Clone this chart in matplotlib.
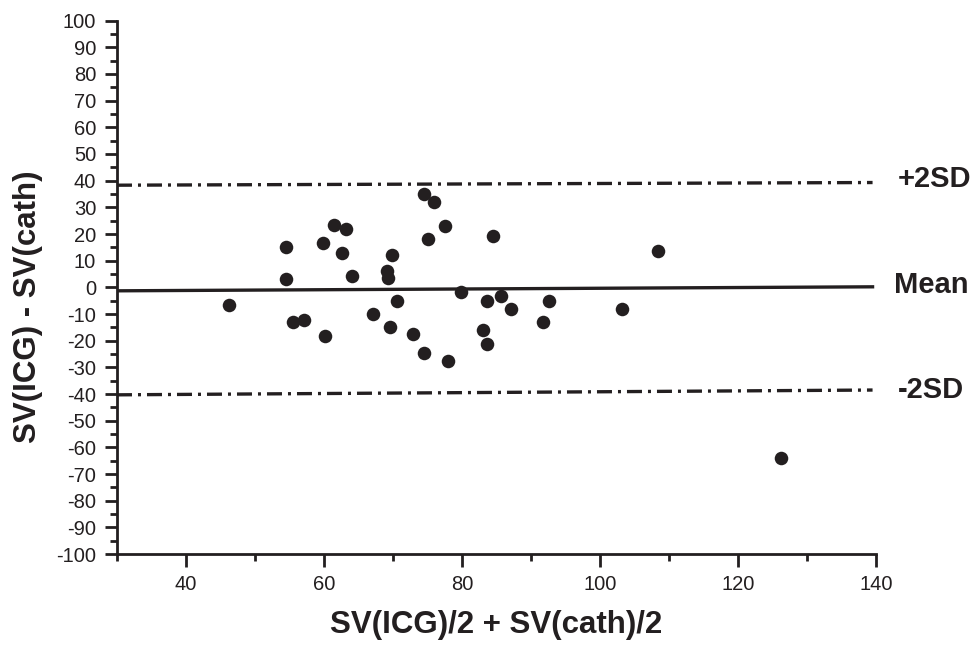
import matplotlib
matplotlib.use('Agg')
import matplotlib.pyplot as plt
from matplotlib.ticker import MultipleLocator

plt.rcParams['font.family'] = ['Liberation Sans', 'DejaVu Sans']
plt.rcParams['axes.unicode_minus'] = False

# data
mean_sv = [46.3, 54.5, 54.5, 55.5, 57.1, 59.8, 60.2, 61.4, 63.2, 62.6, 64.1, 67.1,
           69.1, 69.3, 69.9, 69.5, 70.6, 72.9, 74.5, 74.5, 76.0, 75.1, 77.5, 77.9,
           79.9, 83.6, 83.1, 83.6, 84.5, 85.6, 87.1, 92.6, 91.7, 103.2, 108.4, 126.2]
diff_sv = [-6.5, 15.0, 3.0, -13.0, -12.3, 16.5, -18.4, 23.2, 21.7, 13.0, 4.1, -10.0,
           6.2, 3.4, 12.2, -14.9, -5.0, -17.5, -24.8, 35.1, 32.0, 18.0, 23.1, -27.6,
           -1.6, -5.0, -16.1, -21.1, 19.4, -3.1, -8.0, -5.0, -13.1, -8.0, 13.5, -64.0]

line_x = [30, 139.5]
upper_sd = [38.3, 39.3]
mean_line = [-1.3, 0.2]
lower_sd = [-40.3, -38.5]
line_labels = ['+2SD', 'Mean', '-2SD']
label_y = [40.8, 0.7, -38.4]

ink = '#231f20'

fig = plt.figure(figsize=(9.79, 6.45), dpi=100)
ax = fig.add_axes([0.1195, 0.141, 0.7753, 0.827])

ax.plot(line_x, upper_sd, color=ink, lw=2.4, linestyle=(0, (4.5, 1.8, 0.9, 1.8)))
ax.plot(line_x, mean_line, color=ink, lw=2.4)
ax.plot(line_x, lower_sd, color=ink, lw=2.4, linestyle=(0, (4.5, 1.8, 0.9, 1.8)))
ax.scatter(mean_sv, diff_sv, s=95, color=ink, zorder=3, linewidths=0)

for txt, yy, xx in zip(line_labels, label_y, [143.2, 142.6, 143.2]):
    ax.text(xx, yy, txt, fontsize=21, fontweight='bold', color=ink,
            ha='left', va='center', clip_on=False)

ax.set_xlim(30, 140)
ax.set_ylim(-100, 100)
ax.xaxis.set_major_locator(MultipleLocator(20))
ax.xaxis.set_minor_locator(MultipleLocator(10))
ax.yaxis.set_major_locator(MultipleLocator(10))
ax.yaxis.set_minor_locator(MultipleLocator(5))
ax.tick_params(which='major', length=9, width=2, direction='out', labelsize=14.5,
               pad=6, color=ink, labelcolor=ink)
ax.tick_params(which='minor', length=5, width=2, direction='out', color=ink)

for s in ['top', 'right']:
    ax.spines[s].set_visible(False)
for s in ['left', 'bottom']:
    ax.spines[s].set_linewidth(2)
    ax.spines[s].set_color(ink)

fig.text(0.507, 0.031, 'SV(ICG)/2 + SV(cath)/2', fontsize=22.5, fontweight='bold',
         ha='center', va='center', color=ink)
fig.text(0.029, 0.524, 'SV(ICG) - SV(cath)', fontsize=22.5, fontweight='bold',
         ha='center', va='center', rotation=90, color=ink)

plt.savefig('out.png', dpi=100)
